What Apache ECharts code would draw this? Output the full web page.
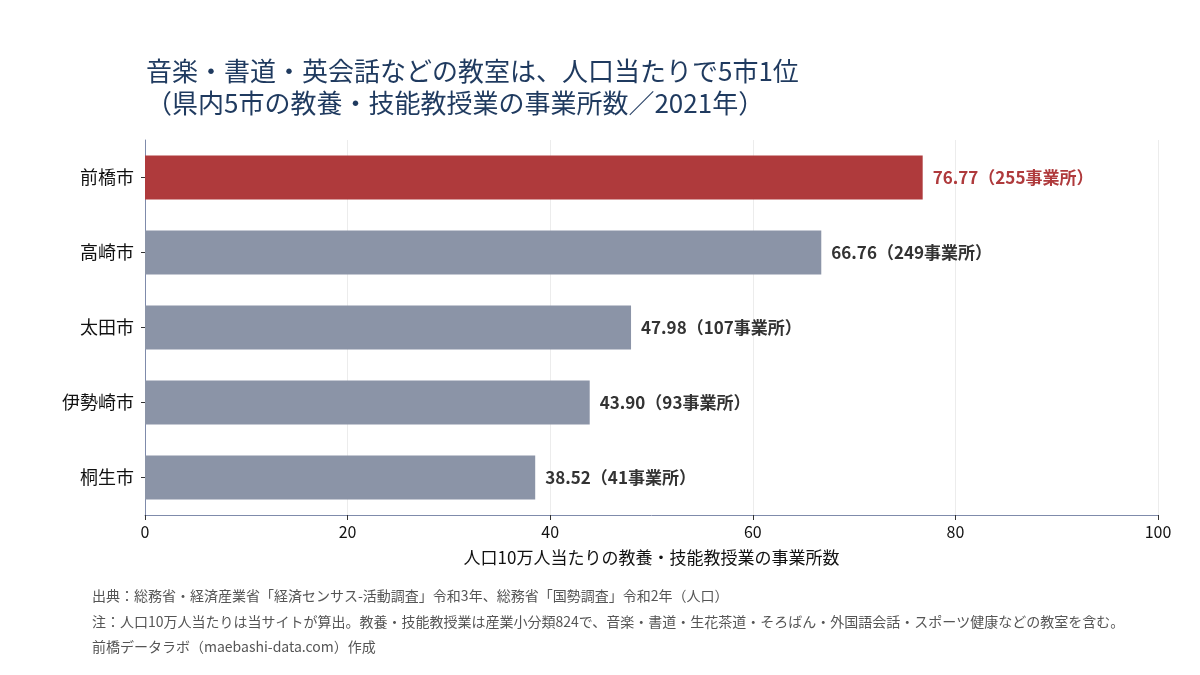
<!DOCTYPE html>
<html>
<head>
<meta charset="utf-8">
<script src="https://cdn.jsdelivr.net/npm/echarts@6/dist/echarts.min.js"></script>
<style>
  html, body { margin: 0; padding: 0; background: #fff; }
  #chart { width: 1200px; height: 675px; }
</style>
</head>
<body>
<div id="chart"></div>
<script>
// data
var cities = ['前橋市', '高崎市', '太田市', '伊勢崎市', '桐生市'];
var perCapita = [76.77, 66.76, 47.98, 43.90, 38.52];
var counts = [255, 249, 107, 93, 41];
var xTicks = [0, 20, 40, 60, 80, 100];

var highlight = '前橋市';
var font = '"Noto Sans CJK JP", "Noto Sans", sans-serif';

var notes = [
    '出典：総務省・経済産業省「経済センサス-活動調査」令和3年、総務省「国勢調査」令和2年（人口）',
    '注：人口10万人当たりは当サイトが算出。教養・技能教授業は産業小分類824で、音楽・書道・生花茶道・そろばん・外国語会話・スポーツ健康などの教室を含む。',
    '前橋データラボ（maebashi-data.com）作成'
];

var barData = cities.map(function (c, i) {
    var hot = c === highlight;
    return {
        value: perCapita[i],
        itemStyle: { color: hot ? '#af3a3c' : '#8b94a7' },
        label: { color: hot ? '#af3a3c' : '#333333' }
    };
});

var chart = echarts.init(document.getElementById('chart'));
chart.setOption({
    animation: false,
    textStyle: { fontFamily: font },
    title: {
        text: '音楽・書道・英会話などの教室は、人口当たりで5市1位\n（県内5市の教養・技能教授業の事業所数／2021年）',
        left: 141,
        top: 50,
        textStyle: { fontFamily: font, fontSize: 26, fontWeight: 'normal', color: '#1f3a5f', lineHeight: 32 }
    },
    grid: { left: 145, right: 42, top: 140, bottom: 160 },
    xAxis: {
        type: 'value',
        min: xTicks[0],
        max: xTicks[xTicks.length - 1],
        interval: 20,
        name: '人口10万人当たりの教養・技能教授業の事業所数',
        nameLocation: 'middle',
        nameGap: 34,
        nameTextStyle: { fontFamily: font, fontSize: 17, color: '#111' },
        axisLine: { show: true, lineStyle: { color: '#7f8bab', width: 1 } },
        axisTick: { show: true, length: 5, lineStyle: { color: '#333' } },
        axisLabel: { fontSize: 16, color: '#111', margin: 9 },
        splitLine: { show: true, lineStyle: { color: '#ececec', width: 1 } }
    },
    yAxis: {
        type: 'category',
        data: cities,
        inverse: true,
        axisLine: { show: true, lineStyle: { color: '#7f8bab', width: 1 } },
        axisTick: { show: true, alignWithLabel: true, length: 4, lineStyle: { color: '#333' } },
        axisLabel: { fontSize: 18, color: '#111', margin: 11 },
        splitLine: { show: false }
    },
    series: [{
        type: 'bar',
        data: barData,
        barWidth: '58.7%',
        label: {
            show: true,
            position: 'right',
            distance: 10,
            fontSize: 17,
            fontWeight: 'bold',
            fontFamily: font,
            formatter: function (p) {
                return p.value.toFixed(2) + '（' + counts[p.dataIndex] + '事業所）';
            }
        }
    }],
    graphic: notes.map(function (t, i) {
        return {
            type: 'text',
            left: 92,
            top: 589 + i * 25.5,
            style: { text: t, fontFamily: font, fontSize: 14, fill: '#555555' }
        };
    })
});
</script>
</body>
</html>
